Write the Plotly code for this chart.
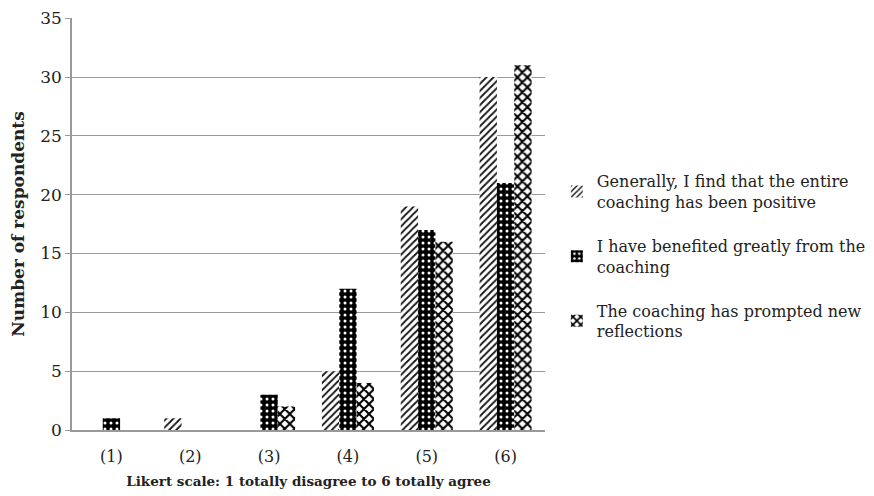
import plotly.graph_objects as go

categories = ["(1)", "(2)", "(3)", "(4)", "(5)", "(6)"]
series_names = [
    "Generally, I find that the entire<br>coaching has been positive",
    "I have benefited greatly from the<br>coaching",
    "The coaching has prompted new<br>reflections",
]
positive = [0, 1, 0, 5, 19, 30]
benefited = [1, 0, 3, 12, 17, 21]
reflections = [0, 0, 2, 4, 16, 31]

FONT = "DejaVu Serif"

fig = go.Figure()
fig.add_trace(go.Bar(
    x=categories, y=positive, name=series_names[0], legendgroup="a",
    marker=dict(color="white", line=dict(width=0),
                pattern=dict(shape="/", fgcolor="#111", bgcolor="white", fgopacity=1,
                             size=5, solidity=0.35)),
))
fig.add_trace(go.Bar(
    x=categories, y=benefited, name=series_names[1], legendgroup="b",
    marker=dict(color="black", line=dict(width=0),
                pattern=dict(shape=".", fgcolor="white", bgcolor="black", fgopacity=1,
                             size=6, solidity=0.2)),
))
fig.add_trace(go.Bar(
    x=categories, y=reflections, name=series_names[2], legendgroup="c",
    marker=dict(color="white", line=dict(width=0),
                pattern=dict(shape="x", fgcolor="black", bgcolor="white", fgopacity=1,
                             size=7, solidity=0.5)),
))

fig.update_layout(
    width=874, height=496,
    margin=dict(l=64, r=337, t=10, b=74),
    paper_bgcolor="white", plot_bgcolor="white",
    barmode="group", bargap=0.34, bargroupgap=0,
    font=dict(family=FONT, size=16, color="#222"),
    showlegend=True,
    legend=dict(x=1.025, y=0.645, xanchor="left", yanchor="top",
                font=dict(family=FONT, size=16, color="#222"),
                itemwidth=30, tracegroupgap=20, itemsizing="constant"),
    xaxis=dict(showline=True, linecolor="#999", linewidth=1.5, ticks="",
               automargin=False,
               tickfont=dict(family=FONT, size=16), ticklabelstandoff=11,
               title=dict(text="<b>Likert scale: 1 totally disagree to 6 totally agree</b>",
                          font=dict(family=FONT, size=13.5), standoff=12)),
    yaxis=dict(range=[0, 35.02], tickvals=[0, 5, 10, 15, 20, 25, 30, 35],
               showgrid=True, gridcolor="#999", gridwidth=1,
               showline=True, linecolor="#999", linewidth=1.5,
               ticks="outside", ticklen=5, tickcolor="#999",
               automargin=False, ticklabeloverflow="allow",
               tickfont=dict(family=FONT, size=17), zeroline=False,
               title=dict(text="<b>Number of respondents</b>",
                          font=dict(family=FONT, size=17), standoff=14)),
)

fig.write_html("out.html")
